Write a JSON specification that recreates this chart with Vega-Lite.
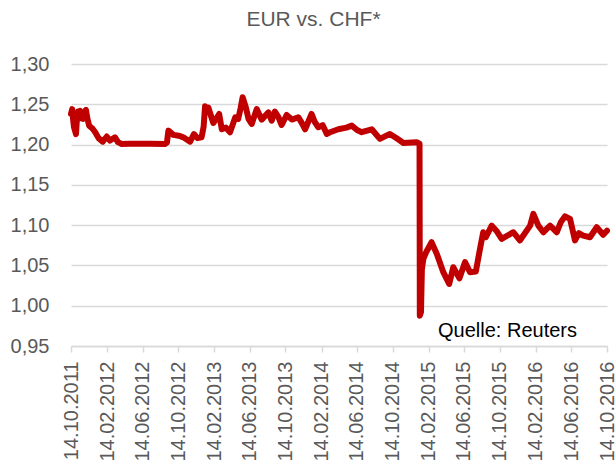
{
  "$schema": "https://vega.github.io/schema/vega-lite/v6.json",
  "width": 536,
  "height": 282,
  "padding": {"left": 10, "top": 9, "right": 0, "bottom": 0},
  "autosize": {"type": "pad"},
  "background": "white",
  "title": {"text": "EUR vs. CHF*", "fontSize": 21, "font": "Liberation Sans", "fontWeight": "normal", "color": "#595959", "anchor": "middle", "frame": "bounds", "offset": 24},
  "config": {"view": {"stroke": null}, "font": "Liberation Sans", "axis": {"labelOverlap": false}},
  "encoding": {
    "x": {
      "field": "date", "type": "temporal",
      "scale": {"type": "utc", "domain": [{"year": 2011, "month": 10, "date": 14, "utc": true}, {"year": 2016, "month": 10, "date": 14, "utc": true}]},
      "axis": {
        "values": [
          {"year": 2011, "month": 10, "date": 14, "utc": true},
          {"year": 2012, "month": 2, "date": 14, "utc": true},
          {"year": 2012, "month": 6, "date": 14, "utc": true},
          {"year": 2012, "month": 10, "date": 14, "utc": true},
          {"year": 2013, "month": 2, "date": 14, "utc": true},
          {"year": 2013, "month": 6, "date": 14, "utc": true},
          {"year": 2013, "month": 10, "date": 14, "utc": true},
          {"year": 2014, "month": 2, "date": 14, "utc": true},
          {"year": 2014, "month": 6, "date": 14, "utc": true},
          {"year": 2014, "month": 10, "date": 14, "utc": true},
          {"year": 2015, "month": 2, "date": 14, "utc": true},
          {"year": 2015, "month": 6, "date": 14, "utc": true},
          {"year": 2015, "month": 10, "date": 14, "utc": true},
          {"year": 2016, "month": 2, "date": 14, "utc": true},
          {"year": 2016, "month": 6, "date": 14, "utc": true},
          {"year": 2016, "month": 10, "date": 14, "utc": true}
        ],
        "labelExpr": "utcFormat(datum.value, '%d.%m.%Y')",
        "labelAngle": -90,
        "labelFontSize": 20,
        "labelColor": "#595959",
        "labelFont": "Liberation Sans",
        "domainColor": "#D9D9D9",
        "domainWidth": 1.5,
        "tickColor": "#D9D9D9",
        "tickWidth": 1.5,
        "tickSize": 6,
        "labelPadding": 9,
        "grid": false,
        "title": null,
        "labelOverlap": false,
        "labelBound": false,
        "labelFlush": false
      }
    },
    "y": {
      "field": "value", "type": "quantitative",
      "scale": {"domain": [0.95, 1.3], "zero": false, "nice": false},
      "axis": {
        "values": [0.95, 1.0, 1.05, 1.1, 1.15, 1.2, 1.25, 1.3],
        "labelExpr": "replace(format(datum.value, '.2f'), '.', ',')",
        "labelFontSize": 20,
        "labelColor": "#595959",
        "labelFont": "Liberation Sans",
        "domain": false,
        "ticks": false,
        "gridColor": "#D9D9D9",
        "gridWidth": 1.5,
        "labelPadding": 22,
        "labelOverlap": false,
        "title": null
      }
    }
  },
  "layer": [
    {
      "data": {"values": [
        {"date": "2011-10-14", "value": 1.238},
        {"date": "2011-10-18", "value": 1.244},
        {"date": "2011-10-21", "value": 1.232},
        {"date": "2011-10-24", "value": 1.222},
        {"date": "2011-10-31", "value": 1.213},
        {"date": "2011-11-04", "value": 1.236},
        {"date": "2011-11-07", "value": 1.241},
        {"date": "2011-11-10", "value": 1.232},
        {"date": "2011-11-14", "value": 1.242},
        {"date": "2011-11-18", "value": 1.236},
        {"date": "2011-11-24", "value": 1.232},
        {"date": "2011-11-29", "value": 1.240},
        {"date": "2011-12-04", "value": 1.243},
        {"date": "2011-12-09", "value": 1.232},
        {"date": "2011-12-15", "value": 1.2235},
        {"date": "2011-12-26", "value": 1.220},
        {"date": "2012-01-04", "value": 1.2156},
        {"date": "2012-01-16", "value": 1.208},
        {"date": "2012-01-30", "value": 1.2036},
        {"date": "2012-02-13", "value": 1.210},
        {"date": "2012-02-24", "value": 1.205},
        {"date": "2012-03-12", "value": 1.209},
        {"date": "2012-03-22", "value": 1.203},
        {"date": "2012-04-04", "value": 1.2007},
        {"date": "2012-05-01", "value": 1.2010},
        {"date": "2012-06-05", "value": 1.2009},
        {"date": "2012-07-10", "value": 1.2010},
        {"date": "2012-08-29", "value": 1.2008},
        {"date": "2012-09-05", "value": 1.2025},
        {"date": "2012-09-10", "value": 1.2173},
        {"date": "2012-09-27", "value": 1.212},
        {"date": "2012-10-15", "value": 1.211},
        {"date": "2012-10-31", "value": 1.209},
        {"date": "2012-11-23", "value": 1.2036},
        {"date": "2012-12-06", "value": 1.213},
        {"date": "2012-12-18", "value": 1.208},
        {"date": "2013-01-01", "value": 1.209},
        {"date": "2013-01-08", "value": 1.222},
        {"date": "2013-01-13", "value": 1.2475},
        {"date": "2013-01-18", "value": 1.240},
        {"date": "2013-01-24", "value": 1.246},
        {"date": "2013-02-10", "value": 1.2268},
        {"date": "2013-02-20", "value": 1.232},
        {"date": "2013-03-02", "value": 1.238},
        {"date": "2013-03-11", "value": 1.219},
        {"date": "2013-03-25", "value": 1.221},
        {"date": "2013-04-08", "value": 1.2153},
        {"date": "2013-04-26", "value": 1.2339},
        {"date": "2013-05-06", "value": 1.2318},
        {"date": "2013-05-14", "value": 1.245},
        {"date": "2013-05-21", "value": 1.2587},
        {"date": "2013-06-01", "value": 1.246},
        {"date": "2013-06-10", "value": 1.232},
        {"date": "2013-06-21", "value": 1.2256},
        {"date": "2013-07-08", "value": 1.244},
        {"date": "2013-07-25", "value": 1.231},
        {"date": "2013-08-17", "value": 1.240},
        {"date": "2013-08-28", "value": 1.2297},
        {"date": "2013-09-08", "value": 1.241},
        {"date": "2013-09-20", "value": 1.234},
        {"date": "2013-10-01", "value": 1.2243},
        {"date": "2013-10-18", "value": 1.2367},
        {"date": "2013-11-05", "value": 1.231},
        {"date": "2013-11-27", "value": 1.2339},
        {"date": "2013-12-10", "value": 1.226},
        {"date": "2013-12-20", "value": 1.219},
        {"date": "2014-01-11", "value": 1.238},
        {"date": "2014-01-22", "value": 1.228},
        {"date": "2014-02-03", "value": 1.2215},
        {"date": "2014-02-18", "value": 1.224},
        {"date": "2014-03-04", "value": 1.2132},
        {"date": "2014-03-15", "value": 1.2153},
        {"date": "2014-04-12", "value": 1.219},
        {"date": "2014-05-10", "value": 1.221},
        {"date": "2014-05-28", "value": 1.2235},
        {"date": "2014-06-15", "value": 1.218},
        {"date": "2014-07-01", "value": 1.2153},
        {"date": "2014-08-04", "value": 1.219},
        {"date": "2014-09-01", "value": 1.207},
        {"date": "2014-10-05", "value": 1.2132},
        {"date": "2014-10-28", "value": 1.2078},
        {"date": "2014-11-20", "value": 1.202},
        {"date": "2015-01-04", "value": 1.2029},
        {"date": "2015-01-14", "value": 1.201},
        {"date": "2015-01-15", "value": 0.9877},
        {"date": "2015-01-19", "value": 0.992},
        {"date": "2015-01-22", "value": 1.045},
        {"date": "2015-01-27", "value": 1.058},
        {"date": "2015-02-05", "value": 1.066},
        {"date": "2015-02-24", "value": 1.0788},
        {"date": "2015-03-14", "value": 1.0643},
        {"date": "2015-04-05", "value": 1.0416},
        {"date": "2015-04-25", "value": 1.027},
        {"date": "2015-05-09", "value": 1.0478},
        {"date": "2015-05-30", "value": 1.034},
        {"date": "2015-06-18", "value": 1.054},
        {"date": "2015-07-05", "value": 1.0416},
        {"date": "2015-07-25", "value": 1.0424},
        {"date": "2015-08-08", "value": 1.0705},
        {"date": "2015-08-19", "value": 1.0912},
        {"date": "2015-08-28", "value": 1.085},
        {"date": "2015-09-17", "value": 1.0994},
        {"date": "2015-10-05", "value": 1.092},
        {"date": "2015-10-21", "value": 1.083},
        {"date": "2015-11-30", "value": 1.0912},
        {"date": "2015-12-22", "value": 1.081},
        {"date": "2016-01-26", "value": 1.0994},
        {"date": "2016-02-06", "value": 1.114},
        {"date": "2016-02-23", "value": 1.0994},
        {"date": "2016-03-11", "value": 1.0912},
        {"date": "2016-04-03", "value": 1.0994},
        {"date": "2016-04-26", "value": 1.0912},
        {"date": "2016-05-10", "value": 1.104},
        {"date": "2016-05-24", "value": 1.111},
        {"date": "2016-06-10", "value": 1.1077},
        {"date": "2016-06-27", "value": 1.081},
        {"date": "2016-07-10", "value": 1.090},
        {"date": "2016-07-25", "value": 1.087},
        {"date": "2016-08-17", "value": 1.085},
        {"date": "2016-09-09", "value": 1.0974},
        {"date": "2016-10-01", "value": 1.088},
        {"date": "2016-10-14", "value": 1.093}
      ]},
      "mark": {"type": "line", "color": "#C00000", "strokeWidth": 6, "strokeJoin": "round", "strokeCap": "round"}
    },
    {
      "data": {"values": [{"date": "2015-03-18", "value": 0.969, "label": "Quelle: Reuters"}]},
      "mark": {"type": "text", "align": "left", "baseline": "middle", "fontSize": 20, "color": "#000000", "font": "Liberation Sans"},
      "encoding": {
        "text": {"field": "label"}
      }
    }
  ]
}
